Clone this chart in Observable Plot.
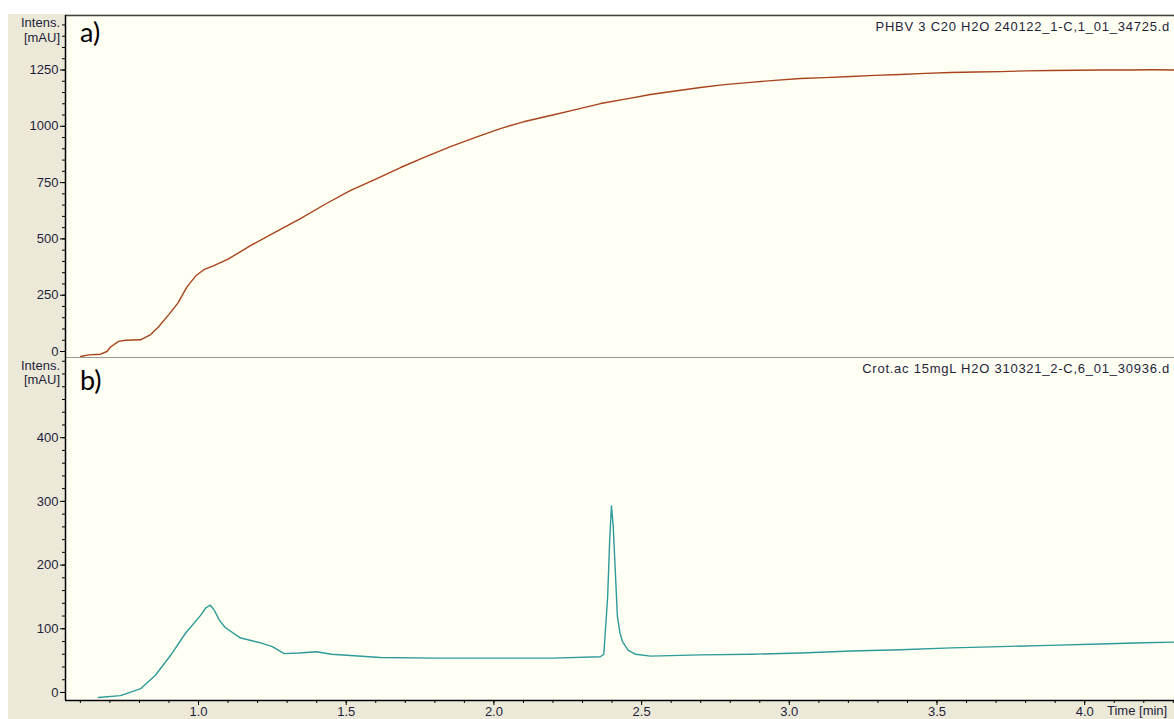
<!DOCTYPE html>
<html><head><meta charset="utf-8">
<script src="https://cdn.jsdelivr.net/npm/d3@7"></script>
<script src="https://cdn.jsdelivr.net/npm/@observablehq/plot@0.6"></script>
<style>
body{margin:0;background:#fff;overflow:hidden}
#wrap{position:relative;width:1174px;height:719px;overflow:hidden;background:#fff}
#gray{position:absolute;left:8px;top:14px;right:0;bottom:0;background:#ECE9D8}
.pl{position:absolute;left:0}
.lbl{position:absolute;font-family:"Liberation Sans",Arial,sans-serif;font-size:13px;color:#1e1e3c;white-space:nowrap;line-height:13px}
.ttl{letter-spacing:0.75px}
.big{position:absolute;font-family:Lato,"Open Sans",sans-serif;font-size:27px;color:#000;line-height:30px}
</style></head>
<body>
<div id="wrap">
  <div id="gray"></div>
  <div id="p1" class="pl" style="top:0"></div>
  <div id="p2" class="pl" style="top:357px"></div>
  <div class="lbl" style="right:1114px;top:16px;text-align:right">Intens.</div>
  <div class="lbl" style="right:1114px;top:31px;text-align:right">[mAU]</div>
  <div class="lbl" style="right:1114px;top:359px;text-align:right">Intens.</div>
  <div class="lbl" style="right:1114px;top:373px;text-align:right">[mAU]</div>
  <div class="lbl ttl" style="right:4px;top:20px">PHBV 3 C20 H2O 240122_1-C,1_01_34725.d</div>
  <div class="lbl ttl" style="right:4px;top:362px">Crot.ac 15mgL H2O 310321_2-C,6_01_30936.d</div>
  <div class="lbl" style="left:1107px;top:704px">Time [min]</div>
  <div class="big" style="left:80px;top:17px">a)</div>
  <div class="big" style="left:80px;top:365px">b)</div>
</div>
<script>
// Panel a) PHBV trace
const topTime  = [0.601,0.628,0.668,0.690,0.702,0.729,0.753,0.804,0.838,0.865,0.90,0.93,0.96,0.99,1.02,1.05,1.10,1.176,1.26,1.345,1.43,1.515,1.60,1.684,1.77,1.853,1.94,2.022,2.10,2.192,2.28,2.361,2.45,2.530,2.62,2.699,2.78,2.869,2.95,3.038,3.12,3.207,3.29,3.376,3.46,3.546,3.63,3.715,3.80,3.884,3.97,4.053,4.15,4.23,4.304];
const topValue = [-22,-15,-12,0,20,45,50,52,75,110,165,215,285,335,365,380,410,470,530,590,655,715,765,817,865,910,952,990,1020,1048,1075,1101,1122,1141,1158,1172,1185,1195,1204,1212,1216,1221,1226,1230,1235,1239,1241,1243,1246,1248,1249,1250,1250,1251,1250];
// Panel b) Crotonic acid trace
const botTime  = [0.661,0.736,0.804,0.854,0.905,0.956,1.007,1.025,1.04,1.055,1.07,1.09,1.14,1.21,1.25,1.29,1.34,1.40,1.45,1.515,1.616,1.80,2.00,2.20,2.36,2.372,2.385,2.392,2.398,2.404,2.410,2.418,2.426,2.435,2.455,2.48,2.53,2.70,2.87,3.04,3.21,3.376,3.55,3.715,3.88,4.05,4.20,4.304];
const botValue = [-8,-5,6,27,58,93,121,133,137,128,114,102,86,78,72,61,62,64,60,58,55,54,54,54,56,60,150,240,293,260,200,120,95,80,66,60,57,59,60,62,65,67,70,72,74,76,78,79];

const xMajor = [1.0,1.5,2.0,2.5,3.0,3.5,4.0];
const xMinor = d3.range(6,44).map(d=>d/10);
const yTopMajor = [0,250,500,750,1000,1250];
const yTopMinor = d3.range(0,1451,50);
const yBotMajor = [0,100,200,300,400];
const yBotMinor = d3.range(0,521,20);

const topData = topTime.map((t,i)=>({t, v: topValue[i]}));
const botData = botTime.map((t,i)=>({t, v: botValue[i]}));

const xDomain = [0.5497, 4.304];
const cream = "#FFFFF4";
const font = '"Liberation Sans", Arial, sans-serif';
const style = {background:"transparent", fontFamily:font, fontSize:"13px", color:"#1e1e3c", overflow:"visible"};
const intFmt = d3.format("d");

const p1 = Plot.plot({
  width:1174, height:357, marginLeft:65, marginRight:0, marginTop:15, marginBottom:0,
  style,
  x:{domain:xDomain, axis:null},
  y:{domain:[-26.6,1492], axis:null},
  marks:[
    Plot.frame({fill:cream, stroke:null}),
    Plot.ruleY([1492],{stroke:"#444", strokeWidth:1.5}),
    Plot.ruleY([-26.6],{stroke:"#333", strokeWidth:1.2}),
    Plot.ruleX([xDomain[0]],{stroke:"#000", strokeWidth:1.5}),
    Plot.axisY({ticks:yTopMinor, tickSize:3, tickFormat:()=>"", label:null, stroke:"#000"}),
    Plot.axisY({ticks:yTopMajor, tickSize:5, tickPadding:2, tickFormat:intFmt, label:null, stroke:"#000"}),
    Plot.line(topData,{x:"t", y:"v", stroke:"#A8431C", strokeWidth:1.4})
  ]
});
document.getElementById("p1").appendChild(p1);

const p2 = Plot.plot({
  width:1174, height:362, marginLeft:65, marginRight:0, marginTop:0, marginBottom:19,
  style,
  x:{domain:xDomain, axis:null},
  y:{domain:[-12.6,525.9], axis:null},
  marks:[
    Plot.frame({fill:cream, stroke:null}),
    Plot.ruleY([-12.6],{stroke:"#000", strokeWidth:1.5}),
    Plot.ruleX([xDomain[0]],{stroke:"#000", strokeWidth:1.5}),
    Plot.axisY({ticks:yBotMinor, tickSize:3, tickFormat:()=>"", label:null, stroke:"#000"}),
    Plot.axisY({ticks:yBotMajor, tickSize:5, tickPadding:2, tickFormat:intFmt, label:null, stroke:"#000"}),
    Plot.axisX({ticks:xMinor, tickSize:3, tickFormat:()=>"", label:null, stroke:"#000"}),
    Plot.axisX({ticks:xMajor, tickSize:5, tickPadding:1, tickFormat:d3.format(".1f"), label:null, stroke:"#000"}),
    Plot.line(botData,{x:"t", y:"v", stroke:"#2E9A9A", strokeWidth:1.4})
  ]
});
document.getElementById("p2").appendChild(p2);
</script>
</body></html>
